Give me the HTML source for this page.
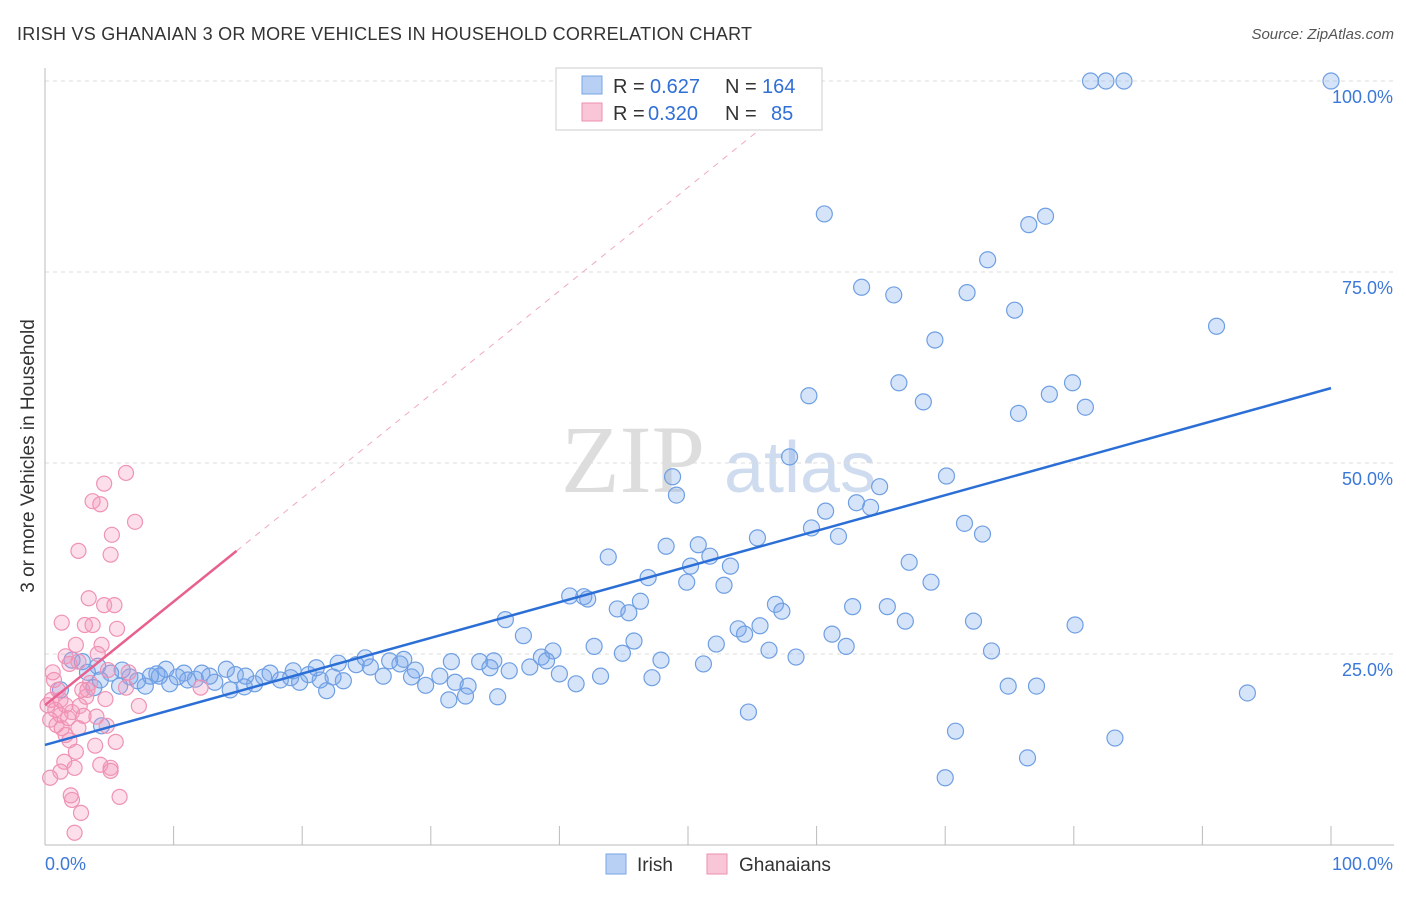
<!DOCTYPE html>
<html><head><meta charset="utf-8"><style>
body{margin:0;background:#fff;font-family:"Liberation Sans",sans-serif;}
</style></head><body>
<svg id="chart" width="1406" height="892" xmlns="http://www.w3.org/2000/svg">
<text x="17" y="40" font-size="18" fill="#333" textLength="735" lengthAdjust="spacing">IRISH VS GHANAIAN 3 OR MORE VEHICLES IN HOUSEHOLD CORRELATION CHART</text>
<text x="1394" y="39" font-size="15" fill="#555" font-style="italic" text-anchor="end">Source: ZipAtlas.com</text>
<text x="34" y="456" font-size="19" fill="#333" text-anchor="middle" transform="rotate(-90 34 456)">3 or more Vehicles in Household</text>
<g><text x="633" y="492" font-size="96" fill="#ddd" font-family="Liberation Serif" text-anchor="middle">ZIP</text><text x="800" y="492" font-size="72" fill="#cfdcef" text-anchor="middle">atlas</text></g>
<g id="grid"></g><g id="axes"></g><g id="lines"></g><g id="pts"></g>
<g>
<rect x="556" y="68" width="266" height="62" fill="#fff" stroke="#ccc"/>
<rect x="582" y="76" width="20" height="18" fill="#b7d0f3" stroke="#7aa6e6"/>
<text x="613" y="93" font-size="20" fill="#333">R =</text><text x="650" y="93" font-size="20" fill="#2f6fd6">0.627</text>
<text x="725" y="93" font-size="20" fill="#333">N =</text><text x="762" y="93" font-size="20" fill="#2f6fd6">164</text>
<rect x="582" y="103" width="20" height="18" fill="#f8c6d6" stroke="#ee8fb0"/>
<text x="613" y="120" font-size="20" fill="#333">R =</text><text x="648" y="120" font-size="20" fill="#2f6fd6">0.320</text>
<text x="725" y="120" font-size="20" fill="#333">N =</text><text x="771" y="120" font-size="20" fill="#2f6fd6">85</text>
</g>
<g>
<rect x="606" y="854" width="20" height="20" fill="#b7d0f3" stroke="#7aa6e6"/>
<text x="637" y="871" font-size="19" fill="#333">Irish</text>
<rect x="707" y="854" width="20" height="20" fill="#f8c6d6" stroke="#ee8fb0"/>
<text x="739" y="871" font-size="19" fill="#333">Ghanaians</text>
</g>
</svg>
<script>
const blueX=[81.3,82.5,83.9,100,60.6,76.5,77.8,73.3,63.5,66.0,71.7,75.4,91.1,69.2,66.4,79.9,59.4,68.3,78.1,80.9,75.7,57.9,48.8,49.1,70.1,64.9,60.7,63.1,64.2,59.6,61.7,71.5,72.9,55.4,48.3,50.8,51.7,43.8,50.2,53.3,46.9,49.9,52.8,67.2,68.9,40.8,41.9,42.2,46.3,44.5,45.4,56.8,57.3,62.8,65.5,66.9,72.2,80.1,35.8,37.2,55.6,53.9,54.4,61.2,62.3,42.7,45.8,52.2,44.9,56.3,58.4,73.6,39.5,38.6,39.0,47.9,31.6,33.8,34.9,51.2,28.8,34.6,36.1,37.7,40.0,41.3,43.2,47.2,30.7,29.6,31.9,32.9,35.2,31.4,32.7,21.9,23.2,26.3,27.6,28.5,25.3,24.2,22.8,24.9,26.8,27.9,19.3,20.5,21.4,18.3,17.0,16.3,15.5,14.8,14.1,13.2,12.2,11.7,10.8,10.3,9.4,8.7,7.8,7.2,6.6,6.0,5.1,4.1,2.9,2.1,1.2,3.8,4.4,3.3,4.3,70.0,70.8,74.9,77.1,76.4,83.2,93.5,54.7,17.5,14.4,11.1,9.7,5.8,8.9,8.2,12.8,15.6,19.1,19.8,21.1,22.4];
const blueY=[100,100,100,100,82.6,81.2,82.3,76.6,73.0,72.0,72.3,70.0,67.9,66.1,60.5,60.5,58.8,58.0,59.0,57.3,56.5,50.8,48.2,45.8,48.3,46.9,43.7,44.8,44.2,41.5,40.4,42.1,40.7,40.2,39.1,39.3,37.8,37.7,36.5,36.5,35.0,34.4,34.0,37.0,34.4,32.6,32.5,32.2,31.9,30.9,30.4,31.5,30.6,31.2,31.2,29.3,29.3,28.8,29.5,27.4,28.7,28.3,27.6,27.6,26.0,26.0,26.7,26.3,25.1,25.5,24.6,25.4,25.4,24.6,24.1,24.2,24.0,24.0,24.1,23.7,22.9,23.2,22.8,23.3,22.4,21.1,22.1,21.9,22.1,20.9,21.3,20.8,19.4,19.0,19.5,20.2,21.5,22.1,23.7,22.0,23.3,23.6,23.8,24.5,24.1,24.3,22.8,22.3,21.6,21.6,22.0,21.1,20.7,22.3,23.0,21.3,22.5,21.7,22.5,22.0,23.0,22.4,20.8,21.5,22.0,22.9,22.5,23.4,24.0,24.2,20.3,20.6,15.6,22.6,21.6,8.8,14.9,20.8,20.8,11.4,14.0,19.9,17.4,22.5,20.3,21.6,21.1,20.8,22.1,22.1,22.1,22.1,21.9,21.3,23.2,22.0];
const pinkX=[6.3,4.6,3.7,4.3,7.0,5.2,2.6,5.1,3.4,4.6,5.4,3.1,3.7,5.6,1.3,4.4,2.4,1.6,4.1,2.6,1.9,3.5,4.9,4.7,3.2,6.3,7.3,0.7,1.0,0.5,0.8,1.2,1.6,2.1,2.7,0.4,0.9,1.3,1.8,0.2,0.6,1.6,1.9,3.0,4.0,4.8,5.5,3.9,2.4,1.5,2.3,1.2,5.1,4.3,5.1,0.4,5.8,2.0,2.1,2.8,2.3,12.1,6.5,3.3,2.6,2.9,1.2];
const pinkY=[48.7,47.3,45.0,44.6,42.3,40.6,38.5,38.0,32.3,31.4,31.4,28.8,28.8,28.3,29.1,26.2,26.2,24.7,25.0,24.0,23.7,21.2,22.9,19.1,19.4,20.6,18.2,21.6,20.3,19.0,17.7,17.0,18.3,17.4,18.2,16.4,15.7,15.3,16.6,18.3,22.6,14.4,13.7,16.9,16.8,15.6,13.5,13.0,12.2,10.9,10.1,9.6,10.1,10.5,9.7,8.8,6.3,6.5,5.9,4.2,1.6,20.6,22.6,20.3,15.3,20.3,19.0];
const yTicks=[25,50,75,100];
const yTickLabels=["25.0%","50.0%","75.0%","100.0%"];
const xTicks=[0,10,20,30,40,50,60,70,80,90,100];
const blueFit=[13.1,59.8];
const pinkFit=[18.3,38.5];
const pinkFitEnd=14.9;
const NS="http://www.w3.org/2000/svg";
const sx=v=>45+v*12.86, sy=v=>845-v*7.64;
function mk(tag,attrs,parent){const e=document.createElementNS(NS,tag);for(const k in attrs)e.setAttribute(k,attrs[k]);parent.appendChild(e);return e;}
const grid=document.getElementById('grid'),axes=document.getElementById('axes'),lines=document.getElementById('lines'),pts=document.getElementById('pts');
yTicks.forEach((t,i)=>{
 const l=mk('line',{x1:45,x2:1394,y1:sy(t),y2:sy(t),stroke:'#ddd','stroke-dasharray':'4,4'},grid);
 
 
 const tx=mk('text',{x:1393,y:sy(t)+22,'font-size':18,fill:'#3b78d8','text-anchor':'end'},axes);
 tx.textContent=yTickLabels[i];
 
 
});
const ax=mk('line',{x1:45,x2:45,y1:68,y2:845,stroke:'#bbb'},axes);


const bx=mk('line',{x1:45,x2:1394,y1:845,y2:845,stroke:'#bbb'},axes);


xTicks.forEach(t=>{const l=mk('line',{x1:sx(t),x2:sx(t),y1:826,y2:845,stroke:'#bbb'},axes);
 
 });
const x0=mk('text',{x:45,y:870,'font-size':18,fill:'#3b78d8'},axes);x0.textContent='0.0%';


const x1=mk('text',{x:1393,y:870,'font-size':18,fill:'#3b78d8','text-anchor':'end'},axes);x1.textContent='100.0%';


for(let i=0;i<blueX.length;i++){const c=mk('circle',{cx:sx(blueX[i]),cy:sy(blueY[i]),r:8,fill:'rgba(120,165,235,0.3)',stroke:'#6f9fe3','stroke-width':1.2},pts);
 
 }
for(let i=0;i<pinkX.length;i++){const c=mk('circle',{cx:sx(pinkX[i]),cy:sy(pinkY[i]),r:7.5,fill:'rgba(245,150,185,0.3)',stroke:'#ef92b4','stroke-width':1.2},pts);
 
 }
const slopeP=(pinkFit[1]-pinkFit[0])/pinkFitEnd;
const xEnd=(100-pinkFit[0])/slopeP;
const pd=mk('line',{x1:sx(pinkFitEnd),y1:sy(pinkFit[1]),x2:sx(xEnd),y2:sy(100),stroke:'#f0a8c0','stroke-width':1,'stroke-dasharray':'6,6'},lines);


const bl=mk('line',{x1:sx(0),y1:sy(blueFit[0]),x2:sx(100),y2:sy(blueFit[1]),stroke:'#2b6fd6','stroke-width':2.5},pts);


const pl=mk('line',{x1:sx(0),y1:sy(pinkFit[0]),x2:sx(pinkFitEnd),y2:sy(pinkFit[1]),stroke:'#e8608f','stroke-width':2.5},pts);


</script>
</body></html>
